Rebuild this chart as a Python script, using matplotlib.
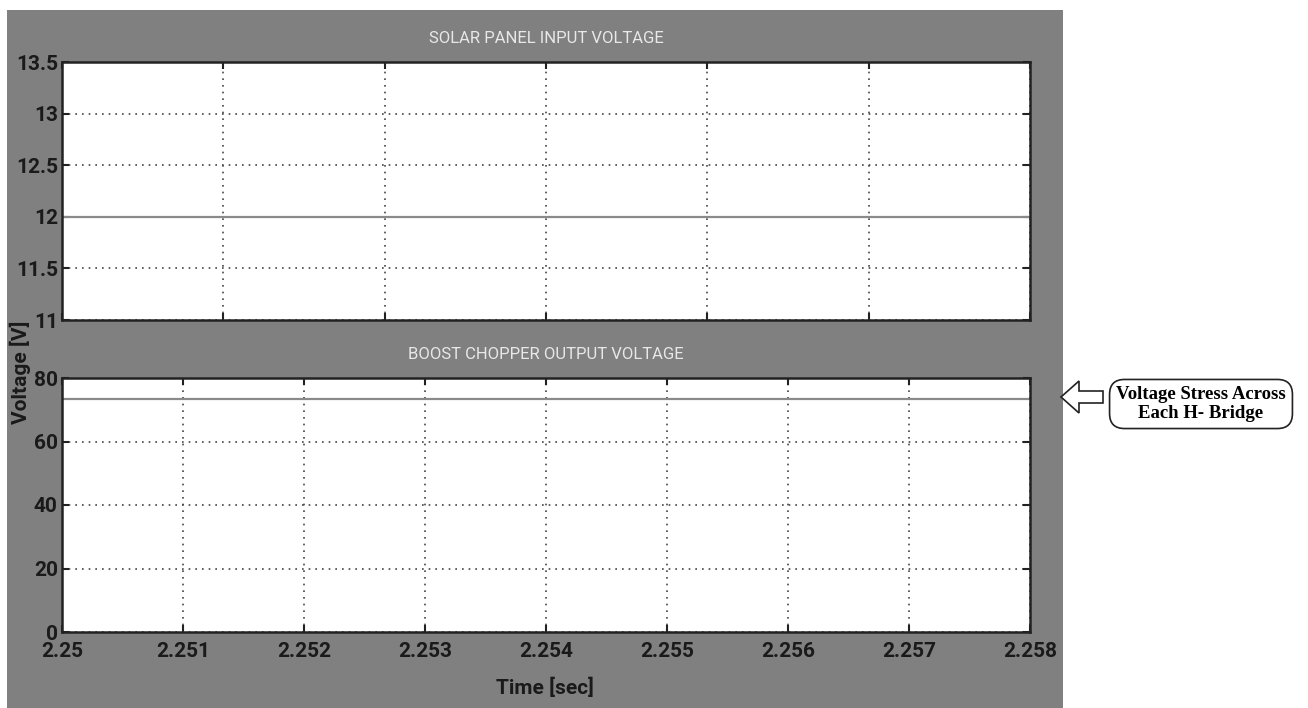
import matplotlib.pyplot as plt
from matplotlib.patches import Rectangle, FancyArrow
import numpy as np

# simulation window [s]
time = [2.25, 2.258]
solar_v = [12.0, 12.0]
boost_v = [73.5, 73.5]

x_ticks = [2.25, 2.251, 2.252, 2.253, 2.254, 2.255, 2.256, 2.257, 2.258]
x_labels = ['2.25', '2.251', '2.252', '2.253', '2.254', '2.255', '2.256', '2.257', '2.258']
top_yticks = [11, 11.5, 12, 12.5, 13, 13.5]
top_ylabels = ['11', '11.5', '12', '12.5', '13', '13.5']
bot_yticks = [0, 20, 40, 60, 80]
# the upper scope splits the same window into 6 divisions instead of 8
top_xticks = np.linspace(time[0], time[-1], 7)

W, H = 1308, 708
fig = plt.figure(figsize=(W / 100, H / 100), dpi=100)
fig.patch.set_facecolor('white')

# matlab style grey figure panel
fig.patches.append(Rectangle((7 / W, 0), (1063 - 7) / W, (708 - 10) / H,
                             transform=fig.transFigure, fc='#808080', ec='none', zorder=-5))

tick_font = dict(family='Roboto', weight='bold', size=15, color='#1a1a1a')
title_font = dict(family='Roboto', size=12, color='#e8e8e8')

left, right = 62 / W, 1030 / W
ax1 = fig.add_axes([left, 1 - 320 / H, right - left, (320 - 62) / H])
ax2 = fig.add_axes([left, 1 - 632 / H, right - left, (632 - 378) / H])


def style(ax):
    ax.set_facecolor('white')
    ax.set_xlim(time[0], time[-1])
    ax.grid(True, linestyle=(0, (1, 3)), color='#444444', linewidth=1.2)
    ax.tick_params(direction='in', top=True, right=True, length=5, width=1.5,
                   colors='#222222', pad=3)
    ax.tick_params(axis='x', pad=7)
    for s in ax.spines.values():
        s.set_linewidth(1.8)
        s.set_color('#222222')


style(ax1)
ax1.plot(time, solar_v, color='#8a8a8a', lw=1.6)
ax1.set_ylim(11, 13.5)
ax1.set_xticks(top_xticks)
ax1.set_xticklabels([])
ax1.set_yticks(top_yticks)
ax1.set_yticklabels(top_ylabels, fontdict=tick_font)
ax1.set_title('SOLAR PANEL INPUT VOLTAGE', pad=14, **title_font)

style(ax2)
ax2.plot(time, boost_v, color='#8a8a8a', lw=1.6)
ax2.set_ylim(0, 80)
ax2.set_xticks(x_ticks)
ax2.set_xticklabels(x_labels, fontdict=tick_font)
ax2.set_yticks(bot_yticks)
ax2.set_yticklabels([str(v) for v in bot_yticks], fontdict=tick_font)
ax2.set_title('BOOST CHOPPER OUTPUT VOLTAGE', pad=14, **title_font)

fig.text(20 / W, 1 - 372 / H, 'Voltage [V]', rotation=90, ha='center', va='center',
         fontdict=tick_font)
fig.text(545 / W, 1 - 688 / H, 'Time [sec]', ha='center', va='center', fontdict=tick_font)

# callout on the right
fig.text(1201 / W, 1 - 404 / H, 'Voltage Stress Across\nEach H- Bridge', ha='center', va='center',
         family='Liberation Serif', weight='bold', size=13.5, linespacing=1.15,
         bbox=dict(boxstyle='round,pad=0.35,rounding_size=0.8', fc='white', ec='#222222', lw=1.2))
fig.patches.append(FancyArrow(
    1103 / W, 1 - 397 / H, -42 / W, 0, width=12 / H, head_width=32 / H, head_length=18 / W,
    length_includes_head=True, transform=fig.transFigure, fc='white', ec='#222222', lw=1.2))

fig.savefig('out.png', dpi=100, facecolor='white')
